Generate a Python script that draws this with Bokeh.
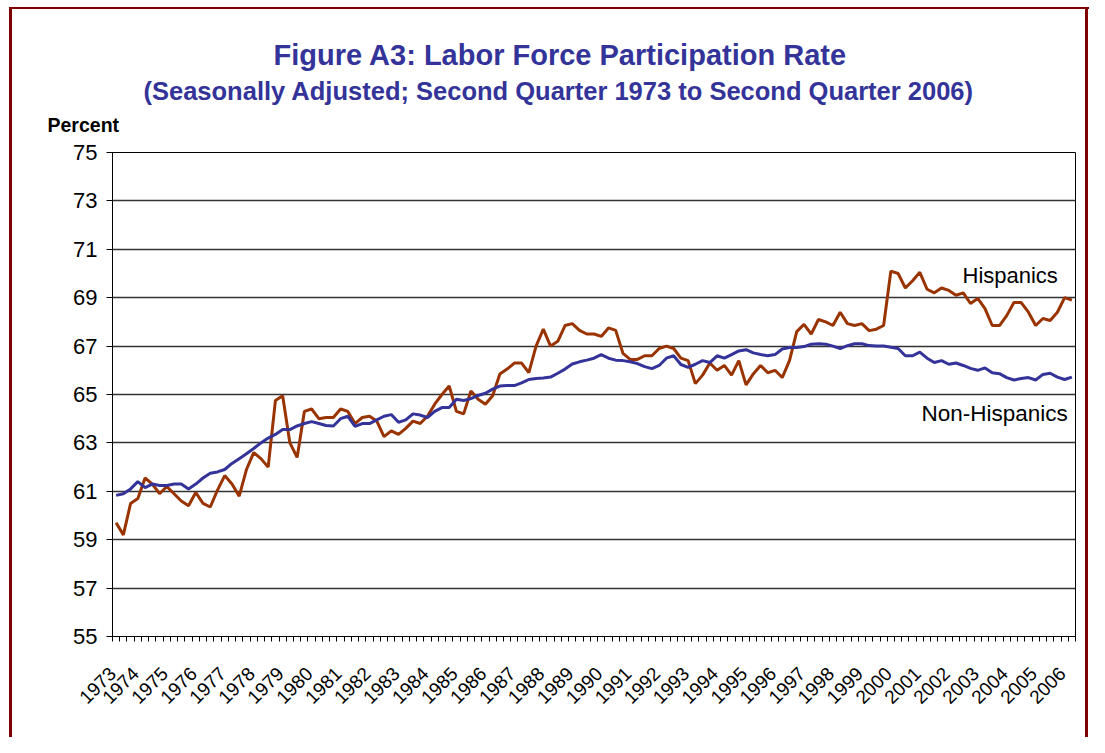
import numpy as np
from bokeh.plotting import figure
from bokeh.models import ColumnDataSource, FixedTicker, Label, Title
from bokeh.embed import file_html
from bokeh.resources import INLINE
from math import pi

# ---- data: quarterly, 1973 Q2 .. 2006 Q2 (133 quarters) ----
years = list(range(1973, 2007))
hispanics = [
    59.7, 59.2, 60.5, 60.7, 61.55, 61.3, 60.9, 61.2, 60.9, 60.6,
    60.4, 60.95, 60.5, 60.35, 61.05, 61.65, 61.3, 60.8, 61.9, 62.6,
    62.35, 62.0, 64.75, 64.95, 63.0, 62.4, 64.3, 64.4, 64.0, 64.05,
    64.05, 64.4, 64.3, 63.8, 64.05, 64.1, 63.9, 63.26, 63.5, 63.35,
    63.6, 63.9, 63.8, 64.1, 64.6, 65.0, 65.35, 64.3, 64.2, 65.15,
    64.8, 64.6, 64.95, 65.85, 66.05, 66.3, 66.3, 65.9, 67.0, 67.7,
    67.0, 67.2, 67.85, 67.93, 67.65, 67.5, 67.5, 67.4, 67.75, 67.65,
    66.7, 66.45, 66.45, 66.6, 66.6, 66.9, 67.0, 66.9, 66.5, 66.4,
    65.45, 65.8, 66.3, 66.0, 66.2, 65.8, 66.4, 65.4, 65.85, 66.2,
    65.9, 66.0, 65.7, 66.4, 67.6, 67.9, 67.5, 68.1, 68.0, 67.85,
    68.4, 67.93, 67.85, 67.93, 67.64, 67.7, 67.85, 70.1, 70.0, 69.4,
    69.7, 70.05, 69.35, 69.2, 69.4, 69.3, 69.1, 69.2, 68.76, 68.97,
    68.55, 67.85, 67.85, 68.26, 68.8, 68.8, 68.4, 67.85, 68.14, 68.06,
    68.4, 69.0, 68.9,
]
non_hispanics = [
    60.83, 60.9, 61.1, 61.4, 61.15, 61.3, 61.24, 61.24, 61.3, 61.3,
    61.1, 61.3, 61.55, 61.75, 61.8, 61.9, 62.15, 62.35, 62.55, 62.77,
    63.0, 63.2, 63.35, 63.55, 63.55, 63.7, 63.8, 63.88, 63.8, 63.72,
    63.7, 64.0, 64.1, 63.68, 63.8, 63.8, 63.95, 64.1, 64.17, 63.85,
    63.95, 64.2, 64.15, 64.05, 64.3, 64.46, 64.46, 64.8, 64.75, 64.83,
    64.96, 65.05, 65.22, 65.35, 65.37, 65.37, 65.48, 65.62, 65.66, 65.68,
    65.72, 65.88, 66.05, 66.26, 66.35, 66.42, 66.5, 66.65, 66.5, 66.42,
    66.4, 66.35, 66.28, 66.15, 66.07, 66.2, 66.5, 66.6, 66.24, 66.12,
    66.25, 66.4, 66.32, 66.6, 66.5, 66.65, 66.8, 66.85, 66.72, 66.65,
    66.6, 66.65, 66.88, 66.94, 66.94, 66.98, 67.08, 67.1, 67.08, 67.0,
    66.9, 67.02, 67.1, 67.1, 67.02, 67.0, 67.0, 66.95, 66.9, 66.6,
    66.6, 66.75, 66.5, 66.32, 66.4, 66.25, 66.3, 66.2, 66.08, 66.0,
    66.1, 65.9, 65.86, 65.7, 65.6, 65.66, 65.7, 65.6, 65.83, 65.88,
    65.72, 65.62, 65.72,
]
y_ticks = list(range(55, 76, 2))

n = len(hispanics)
quarter_idx = list(range(n))
src = ColumnDataSource(dict(q=quarter_idx, h=hispanics, nh=non_hispanics))

FONT = "Liberation Sans"
TITLE_BLUE = "#333399"
FRAME_RED = "#800000"

W, H = 1089, 737
p = figure(width=W, height=H, output_backend="svg", toolbar_location=None,
           x_range=(-0.5, n - 0.5), y_range=(55, 75), title=None,
           min_border_left=112, min_border_right=14, min_border_top=152,
           min_border_bottom=101)
# page frame (dark red rule on left, top and right) drawn as host background
p.styles = {
    "background-color": "#ffffff",
    "background-image": ", ".join([f"linear-gradient({FRAME_RED}, {FRAME_RED})"] * 3),
    "background-position": "9px 7px, 9px 7px, 1085px 7px",
    "background-size": "3px 100%, 1080px 2px, 3px 100%",
    "background-repeat": "no-repeat",
}
p.background_fill_color = "white"
p.border_fill_color = None
p.outline_line_color = "black"
p.outline_line_width = 1

# lines
p.line("q", "h", source=src, line_color="#993300", line_width=3)
p.line("q", "nh", source=src, line_color="#333399", line_width=3)

# axes
p.xgrid.grid_line_color = None
p.ygrid.grid_line_color = "#333333"
p.ygrid.grid_line_width = 1.3
p.yaxis.ticker = FixedTicker(ticks=y_ticks)
p.yaxis.major_label_text_font = FONT
p.yaxis.major_label_text_font_size = "22px"
p.yaxis.major_label_text_color = "black"
p.yaxis.axis_line_color = "black"
p.yaxis.major_tick_line_color = "black"
p.yaxis.major_tick_out = 6
p.yaxis.major_tick_in = 0
p.yaxis.minor_tick_line_color = None
p.yaxis.major_label_standoff = 9

# one year label per second quarter, drawn slightly left of its category like the original
label_pos = [max(i * 4 - 1.3, -0.49) for i in range(len(years))]
boundaries = [i - 0.5 for i in range(n + 1)]
p.xaxis.ticker = FixedTicker(ticks=label_pos, minor_ticks=boundaries)
p.xaxis.major_label_overrides = {pos: str(y) for pos, y in zip(label_pos, years)}
p.xaxis.major_label_orientation = pi / 4
p.xaxis.major_label_text_font = FONT
p.xaxis.major_label_text_font_size = "19px"
p.xaxis.major_label_text_color = "black"
p.xaxis.axis_line_color = "black"
p.xaxis.major_tick_line_color = None
p.xaxis.minor_tick_line_color = "black"
p.xaxis.minor_tick_out = 5
p.xaxis.minor_tick_in = 0
p.xaxis.major_label_standoff = 28

# titles (first added = closest to the plot area)
p.add_layout(Title(text="Percent", align="left", offset=-65, standoff=34,
                   text_font=FONT, text_font_size="19.5px", text_font_style="bold",
                   text_color="black"), "above")
p.add_layout(Title(text="(Seasonally Adjusted; Second Quarter 1973 to Second Quarter 2006)",
                   align="left", offset=31, standoff=-20, text_font=FONT,
                   text_font_size="25.5px", text_font_style="bold",
                   text_color=TITLE_BLUE), "above")
p.add_layout(Title(text="Figure A3: Labor Force Participation Rate", align="left",
                   offset=161, standoff=28, text_font=FONT, text_font_size="29px",
                   text_font_style="bold", text_color=TITLE_BLUE), "above")

# series labels inside the plot (screen units relative to the frame)
p.add_layout(Label(x=850, y=361, x_units="screen", y_units="screen",
                   text="Hispanics", text_font=FONT, text_font_size="22px",
                   text_color="black", text_align="left", text_baseline="middle"))
p.add_layout(Label(x=809, y=223, x_units="screen", y_units="screen",
                   text="Non-Hispanics", text_font=FONT, text_font_size="22.5px",
                   text_color="black", text_align="left", text_baseline="middle"))

open("out.html", "w").write(file_html(p, INLINE))
